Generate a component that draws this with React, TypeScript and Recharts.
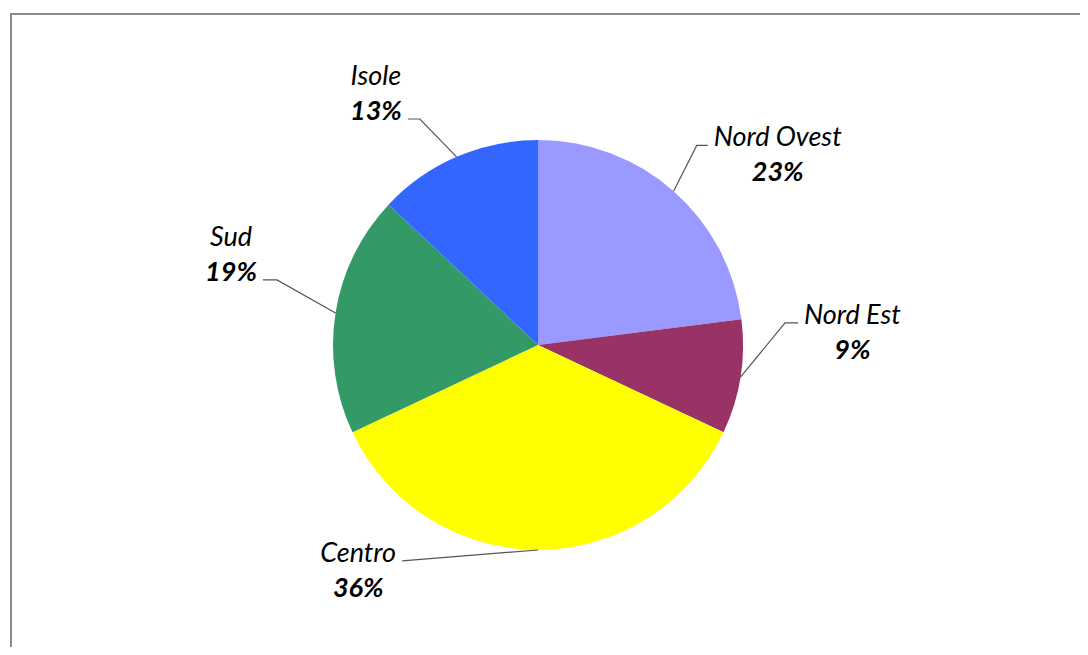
import { Pie, PieChart, Cell } from 'recharts';

const regions = ['Nord Ovest', 'Nord Est', 'Centro', 'Sud', 'Isole'];
const shares = [23, 9, 36, 19, 13];
const sliceColors = ['#9999FF', '#993366', '#FFFF00', '#339966', '#3366FF'];

// Excel-style callout placement: elbow angle (deg clockwise from 12 o'clock), distance past the rim,
// horizontal tail length, and which text row the tail lines up with.
const calloutAngles = [38.5, 84.9, 212.2, 284, 332.4];
const calloutGaps = [50, 43, 50, 64, 50];
const calloutTails = [11, 13, 0, 14, 12];
const calloutRows = [0, 0, 0, 1, 1];

const rows = regions.map((name, i) => ({ name, value: shares[i] }));

const FONT = 'Lato, "Open Sans", sans-serif';
const FONT_SIZE = 27;
const LINE_GAP = 35;

let ctx: CanvasRenderingContext2D | null = null;
function textWidth(text: string, bold: boolean) {
  if (!ctx) ctx = document.createElement('canvas').getContext('2d');
  if (!ctx) return text.length * FONT_SIZE * 0.5;
  ctx.font = `italic ${bold ? 'bold ' : ''}${FONT_SIZE}px ${FONT}`;
  return ctx.measureText(text).width;
}

function polar(cx: number, cy: number, r: number, degFromTop: number) {
  const a = (degFromTop * Math.PI) / 180;
  return { x: cx + r * Math.sin(a), y: cy - r * Math.cos(a) };
}

function Callout(props: any) {
  const { cx, cy, outerRadius, midAngle, index } = props;
  const name = regions[index];
  const pct = `${shares[index]}%`;
  // recharts midAngle is counter-clockwise from 3 o'clock
  const start = polar(cx, cy, outerRadius, 90 - midAngle);
  const elbow = polar(cx, cy, outerRadius + calloutGaps[index], calloutAngles[index]);
  const side = elbow.x >= cx ? 1 : -1;
  const endX = elbow.x + side * calloutTails[index];
  const w = Math.max(textWidth(name, false), textWidth(pct, true));
  const tx = endX + side * (6 + w / 2);
  const base1 = calloutRows[index] === 0 ? elbow.y + 1 : elbow.y - LINE_GAP + 1;
  return (
    <g>
      <polyline
        points={`${start.x},${start.y} ${elbow.x},${elbow.y} ${endX},${elbow.y}`}
        fill="none"
        stroke="#555"
        strokeWidth={1.2}
      />
      <text x={tx} y={base1} textAnchor="middle" fontFamily={FONT} fontSize={FONT_SIZE} fontStyle="italic" fill="#000">
        {name}
      </text>
      <text
        x={tx}
        y={base1 + LINE_GAP}
        textAnchor="middle"
        fontFamily={FONT}
        fontSize={FONT_SIZE}
        fontStyle="italic"
        fontWeight="bold"
        fill="#000"
      >
        {pct}
      </text>
    </g>
  );
}

export default function App() {
  return (
    <div style={{ position: 'relative', width: 1072, height: 639 }}>
      <div
        style={{
          position: 'absolute',
          left: 2,
          top: 5,
          width: 1076,
          height: 640,
          borderLeft: '2px solid #8a8a8a',
          borderTop: '2px solid #8a8a8a',
        }}
      />
      <PieChart
        width={1072}
        height={639}
        margin={{ top: 0, right: 0, bottom: 0, left: 0 }}
        style={{ position: 'absolute', left: 0, top: 0 }}
      >
        <Pie
          data={rows}
          dataKey="value"
          nameKey="name"
          cx={530}
          cy={337}
          outerRadius={205}
          startAngle={90}
          endAngle={-270}
          stroke="none"
          label={Callout}
          labelLine={false}
          isAnimationActive={false}
        >
          {rows.map((r, i) => (
            <Cell key={r.name} fill={sliceColors[i]} />
          ))}
        </Pie>
      </PieChart>
    </div>
  );
}
